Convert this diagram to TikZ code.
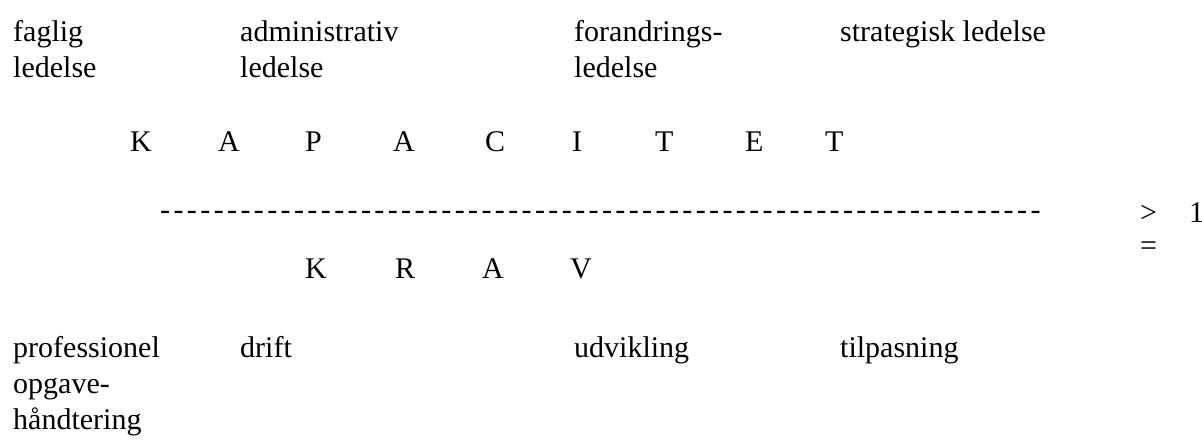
\documentclass[tikz,border=0pt]{standalone}
\usepackage{fontspec}
\setmainfont{Liberation Serif}
\usetikzlibrary{positioning}

\tikzset{
  txt/.style={anchor=base west,inner sep=0pt,align=left,
    font=\fontsize{30}{36}\selectfont},
  ltr/.style={anchor=base west,inner sep=0pt,
    font=\fontsize{30}{36}\selectfont}
}

\begin{document}
\begin{tikzpicture}[x=1pt,y=-1pt]
\useasboundingbox (0,0) rectangle (1202,441);

% the anchor is the base of the last line
\node[txt] (faglig) at (13,78) {faglig\\ledelse};
\node[txt] (admin) at (240,78) {administrativ\\ledelse};
\node[txt] (forand) at (574,78) {forandrings-\\ledelse};
\node[txt] (strat) at (840,42) {strategisk ledelse};

\node[ltr] (k1) at (130,152) {K};
\node[ltr] (k2) at (218,152) {A};
\node[ltr] (k3) at (305,152) {P};
\node[ltr] (k4) at (393,152) {A};
\node[ltr] (k5) at (485,152) {C};
\node[ltr] (k6) at (572,152) {I};
\node[ltr] (k7) at (655,152) {T};
\node[ltr] (k8) at (745,152) {E};
\node[ltr] (k9) at (825,152) {T};

\node[ltr] (brok) at (160,219)
  {\itshape\foreach \i in {1,...,66}{-\kern3.4pt}};
\node[ltr] (gt) at (1140,222) {>};
\node[ltr] (en) at (1189,222) {1};
\node[ltr] (lig) at (1140,255) {=};

\node[ltr] (r1) at (305,278) {K};
\node[ltr] (r2) at (395,278) {R};
\node[ltr] (r3) at (482,278) {A};
\node[ltr] (r4) at (570,278) {V};

\node[txt] (prof) at (13,429) {professionel\\opgave-\\håndtering};
\node[txt] (drift) at (240,357) {drift};
\node[txt] (udv) at (574,357) {udvikling};
\node[txt] (tilp) at (840,357) {tilpasning};

\end{tikzpicture}
\end{document}
